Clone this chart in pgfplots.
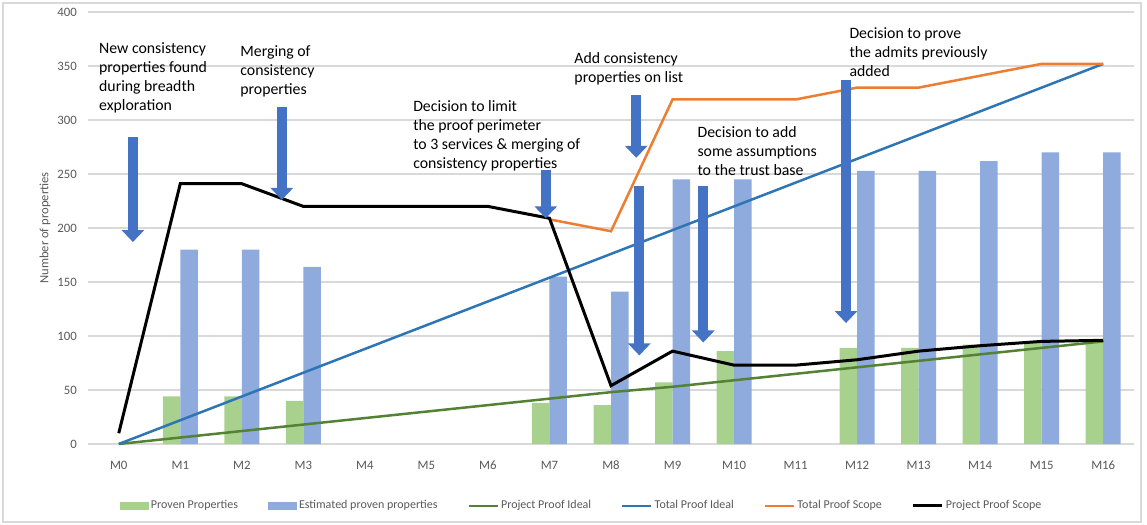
\documentclass[border=0pt]{standalone}
\usepackage{fontspec}
\setmainfont{Carlito}
\usepackage{pgfplots}
\pgfplotsset{compat=1.18}
\usetikzlibrary{arrows.meta}
\definecolor{provgreen}{HTML}{A9D18E}
\definecolor{estblue}{HTML}{8FAADC}
\definecolor{idealgreen}{HTML}{548235}
\definecolor{idealblue}{HTML}{2E75B6}
\definecolor{scopeorange}{HTML}{ED7D31}
\definecolor{arrowblue}{HTML}{4472C4}
\definecolor{gridgray}{HTML}{D9D9D9}
\definecolor{ticktext}{HTML}{595959}
\pgfplotsset{
  barleg/.style={legend image code/.code={\fill[##1,draw=none] (0pt,-2pt) rectangle (14.5pt,2pt);}},
  lineleg/.style={legend image code/.code={\draw[##1] (0pt,0pt) -- (14.5pt,0pt);}},
}
\begin{document}
\begin{tikzpicture}
\path[use as bounding box] (0,0) rectangle (573.5pt,262.5pt);
\draw[color=gridgray, line width=0.6pt] (1.5pt,1.5pt) rectangle (570.5pt,261pt);
\begin{axis}[
  at={(44pt,40.5pt)}, anchor=south west,
  width=523pt, height=216pt, scale only axis,
  xmin=-0.5, xmax=16.5, ymin=0, ymax=400,
  xtick={0,...,16},
  xticklabels={M0,M1,M2,M3,M4,M5,M6,M7,M8,M9,M10,M11,M12,M13,M14,M15,M16},
  ytick={0,50,...,400},
  ymajorgrids, grid style={color=gridgray, line width=0.6pt},
  axis line style={draw=none}, major tick length=0pt,
  tick label style={font=\fontsize{6.4}{7}\selectfont, text=ticktext},
  xticklabel style={yshift=-5pt},
  yticklabel style={xshift=-2pt},
  /pgf/number format/assume math mode=true,
  ylabel={Number of properties},
  ylabel style={at={(axis description cs:-0.041,0.5)}, anchor=center, font=\fontsize{6.3}{7}\selectfont, text=ticktext},
  legend columns=6,
  legend style={at={(0.472,-0.1435)}, anchor=center, draw=none, fill=none,
    font=\fontsize{6}{7}\selectfont, text=ticktext,
    /tikz/every even column/.append style={column sep=14pt},
    /tikz/every odd column/.append style={column sep=0pt},
    nodes={inner sep=1pt}},
  clip=false,
]
\addplot[ybar, bar width=8.75pt, bar shift=-4.375pt, fill=provgreen, draw=none, barleg] coordinates {
  (1,44) (2,44) (3,40) (7,38) (8,36) (9,57) (10,86) (12,89) (13,89) (14,92) (15,94) (16,95)};
\addlegendentry{Proven Properties}
\addplot[ybar, bar width=8.75pt, bar shift=4.375pt, fill=estblue, draw=none, barleg] coordinates {
  (1,180) (2,180) (3,164) (7,155) (8,141) (9,245) (10,245) (12,253) (13,253) (14,262) (15,270) (16,270)};
\addlegendentry{Estimated proven properties}
\addplot[idealgreen, line width=1.25pt, lineleg] coordinates {
  (0,0) (1,6) (2,12) (3,18) (4,24) (5,30) (6,36) (7,42) (8,48) (9,53) (10,59) (11,65) (12,71) (13,77) (14,83) (15,89) (16,95)};
\addlegendentry{Project Proof Ideal}
\addplot[idealblue, line width=1.25pt, lineleg] coordinates {
  (0,0) (1,22) (2,44) (3,66) (4,88) (5,110) (6,132) (7,154) (8,176) (9,198) (10,220) (11,242) (12,264) (13,286) (14,308) (15,330) (16,352)};
\addlegendentry{Total Proof Ideal}
\addplot[scopeorange, line width=1.25pt, lineleg] coordinates {
  (7,208) (8,197) (9,319) (10,319) (11,319) (12,330) (13,330) (14,341) (15,352) (16,352)};
\addlegendentry{Total Proof Scope}
\addplot[black, line width=1.5pt, lineleg] coordinates {
  (0,10) (1,241) (2,241) (3,220) (4,220) (5,220) (6,220) (7,209) (8,54) (9,86) (10,73) (11,73) (12,78) (13,86) (14,91) (15,95) (16,96)};
\addlegendentry{Project Proof Scope}

\tikzset{annarrow/.style={arrowblue, line width=5pt, -{Triangle[width=11pt,length=6pt]}}}
\draw[annarrow] (axis cs:0.23,284) -- (axis cs:0.23,187);
\draw[annarrow] (axis cs:2.65,312) -- (axis cs:2.65,226);
\draw[annarrow] (axis cs:6.94,254) -- (axis cs:6.94,209);
\draw[annarrow] (axis cs:8.41,323) -- (axis cs:8.41,265);
\draw[annarrow] (axis cs:8.46,239) -- (axis cs:8.46,82);
\draw[annarrow] (axis cs:9.50,239) -- (axis cs:9.50,94);
\draw[annarrow] (axis cs:11.82,337) -- (axis cs:11.82,112);

\tikzset{ann/.style={anchor=north west, align=left, inner sep=0pt, font=\fontsize{7.9}{9.5}\selectfont}}
\node[ann] at (axis cs:-0.325,372) {New consistency\\properties found\\during breadth\\exploration};
\node[ann] at (axis cs:1.97,369) {Merging of\\consistency\\properties};
\node[ann] at (axis cs:4.78,318.5) {Decision to limit\\the proof perimeter\\to 3 services \& merging of\\consistency properties};
\node[ann] at (axis cs:7.40,363) {Add consistency\\properties on list};
\node[ann] at (axis cs:9.40,294) {Decision to add\\some assumptions\\to the trust base};
\node[ann] at (axis cs:11.87,386) {Decision to prove\\the admits previously\\added};
\end{axis}
\end{tikzpicture}
\end{document}
